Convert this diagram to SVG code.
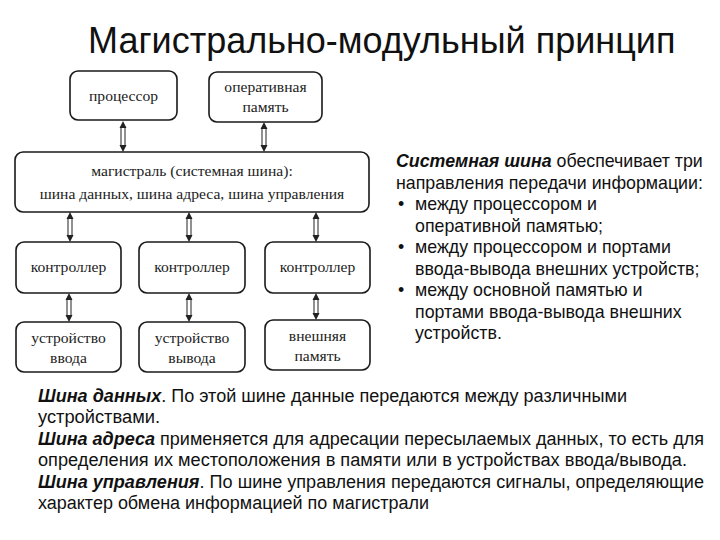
<svg xmlns="http://www.w3.org/2000/svg" width="720" height="540" viewBox="0 0 720 540">
<style>
.box{fill:#fff;stroke:#1a1a1a;stroke-width:1.6}
.bt{font-family:"Liberation Serif","Times New Roman",serif;font-size:15.6px;fill:#222;text-anchor:middle}
.shaft{fill:#fff;stroke:#222;stroke-width:1}
.head{fill:#222}
.rt{font-family:"Liberation Sans",Arial,sans-serif;font-size:17.8px;fill:#111}
.bot{font-family:"Liberation Sans",Arial,sans-serif;font-size:18px;fill:#111}
.bi{font-weight:bold;font-style:italic}
</style>
<rect width="720" height="540" fill="#fff"/>
<text x="88" y="53" font-family="'Liberation Sans',Arial,sans-serif" font-size="36" fill="#111">Магистрально-модульный принцип</text>

<g id="connectors">
  <g id="a-proc"><rect class="shaft" x="121" y="127" width="4" height="19"/><path class="head" d="M123,121 l-3.5,7 h7z M123,152 l-3.5,-7 h7z"/></g>
  <g id="a-ram"><rect class="shaft" x="262" y="128" width="4" height="18"/><path class="head" d="M264,122 l-3.5,7 h7z M264,152 l-3.5,-7 h7z"/></g>
  <g id="a-c1"><rect class="shaft" x="68" y="218" width="4" height="18"/><path class="head" d="M70,212 l-3.5,7 h7z M70,242 l-3.5,-7 h7z"/></g>
  <g id="a-c2"><rect class="shaft" x="187" y="218" width="4" height="18"/><path class="head" d="M189,212 l-3.5,7 h7z M189,242 l-3.5,-7 h7z"/></g>
  <g id="a-c3"><rect class="shaft" x="314" y="218" width="4" height="18"/><path class="head" d="M316,212 l-3.5,7 h7z M316,242 l-3.5,-7 h7z"/></g>
  <g id="a-d1"><rect class="shaft" x="67" y="299" width="4" height="17"/><path class="head" d="M69,293 l-3.5,7 h7z M69,322 l-3.5,-7 h7z"/></g>
  <g id="a-d2"><rect class="shaft" x="187" y="299" width="4" height="17"/><path class="head" d="M189,293 l-3.5,7 h7z M189,322 l-3.5,-7 h7z"/></g>
  <g id="a-d3"><rect class="shaft" x="314" y="299" width="4" height="15"/><path class="head" d="M316,293 l-3.5,7 h7z M316,320 l-3.5,-7 h7z"/></g>
</g>

<g id="proc"><rect class="box" x="70" y="71" width="107" height="49" rx="8"/><text class="bt" x="123.5" y="101">процессор</text></g>
<g id="ram"><rect class="box" x="209" y="72" width="113" height="50" rx="8"/><text class="bt" x="265.5" y="92">оперативная</text><text class="bt" x="265.5" y="112" font-size="13.5">память</text></g>
<g id="bus"><rect class="box" x="15" y="152" width="354" height="60" rx="8"/><text class="bt" x="192" y="176" font-size="16.7">магистраль (системная шина):</text><text class="bt" x="192" y="199" font-size="16.7">шина данных, шина адреса, шина управления</text></g>
<g id="ctrl1"><rect class="box" x="16" y="242" width="105" height="51" rx="8"/><text class="bt" x="68.5" y="272">контроллер</text></g>
<g id="ctrl2"><rect class="box" x="139" y="242" width="106" height="51" rx="8"/><text class="bt" x="192" y="272">контроллер</text></g>
<g id="ctrl3"><rect class="box" x="265" y="242" width="105" height="51" rx="8"/><text class="bt" x="317.5" y="272">контроллер</text></g>
<g id="dev1"><rect class="box" x="16" y="322" width="105" height="50" rx="8"/><text class="bt" x="68.5" y="343">устройство</text><text class="bt" x="68.5" y="363">ввода</text></g>
<g id="dev2"><rect class="box" x="139" y="322" width="106" height="50" rx="8"/><text class="bt" x="192" y="343">устройство</text><text class="bt" x="192" y="363">вывода</text></g>
<g id="dev3"><rect class="box" x="265" y="320" width="105" height="50" rx="8"/><text class="bt" x="317.5" y="341">внешняя</text><text class="bt" x="317.5" y="361" font-size="13.5">память</text></g>

<g id="right-text" class="rt">
  <text x="396" y="167"><tspan class="bi">Системная шина</tspan> обеспечивает три</text>
  <text x="396" y="189">направления передачи информации:</text>
  <text x="398" y="210">•</text><text x="415" y="210">между процессором и</text>
  <text x="415" y="232">оперативной памятью;</text>
  <text x="398" y="253">•</text><text x="415" y="253">между процессором и портами</text>
  <text x="415" y="275">ввода-вывода внешних устройств;</text>
  <text x="398" y="296">•</text><text x="415" y="296">между основной памятью и</text>
  <text x="415" y="318">портами ввода-вывода внешних</text>
  <text x="415" y="339">устройств.</text>
</g>

<g id="bottom-text" class="bot">
  <text x="38" y="402" textLength="589" lengthAdjust="spacingAndGlyphs"><tspan class="bi">Шина данных</tspan>. По этой шине данные передаются между различными</text>
  <text x="38" y="423" textLength="122" lengthAdjust="spacingAndGlyphs">устройствами.</text>
  <text x="38" y="445" textLength="666" lengthAdjust="spacingAndGlyphs"><tspan class="bi">Шина адреса</tspan> применяется для адресации пересылаемых данных, то есть для</text>
  <text x="38" y="466" textLength="649" lengthAdjust="spacingAndGlyphs">определения их местоположения в памяти или в устройствах ввода/вывода.</text>
  <text x="38" y="488" textLength="666" lengthAdjust="spacingAndGlyphs"><tspan class="bi">Шина управления</tspan>. По шине управления передаются сигналы, определяющие</text>
  <text x="38" y="509" textLength="391" lengthAdjust="spacingAndGlyphs">характер обмена информацией по магистрали</text>
</g>
</svg>
